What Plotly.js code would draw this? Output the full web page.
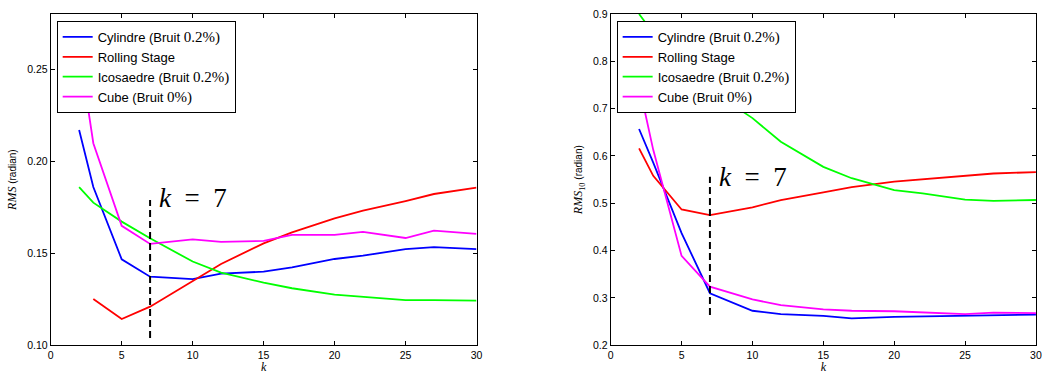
<!DOCTYPE html>
<html>
<head>
<meta charset="utf-8">
<script src="https://cdn.plot.ly/plotly-3.0.1.min.js"></script>
<style>html,body{margin:0;padding:0;background:#fff;}#chart{width:1042px;height:374px;}</style>
</head>
<body>
<div id="chart"></div>
<script>
// ---- data ----
const kAll = [2, 3, 5, 7, 10, 12, 15, 17, 20, 22, 25, 27, 30];
const kRollLeft = [3, 5, 7, 10, 12, 15, 17, 20, 22, 25, 27, 30];

// Left panel: RMS (radian)
const cylLeft  = [0.217, 0.186, 0.1467, 0.1373, 0.136, 0.139, 0.140, 0.1424, 0.1469, 0.1487, 0.1523, 0.1533, 0.1523];
const rollLeft = [0.1252, 0.1143, 0.121, 0.1351, 0.1442, 0.1554, 0.1614, 0.169, 0.1732, 0.1784, 0.1822, 0.1857];
const icoLeft  = [0.1859, 0.1775, 0.1672, 0.1582, 0.1455, 0.1395, 0.134, 0.131, 0.1275, 0.1262, 0.1245, 0.1246, 0.1243];
const cubeLeft = [0.261, 0.2098, 0.1649, 0.1551, 0.1576, 0.1562, 0.1567, 0.160, 0.160, 0.1616, 0.1583, 0.1623, 0.1605];

// Right panel: RMS_10 (radian)
const cylRight  = [0.657, 0.586, 0.437, 0.310, 0.273, 0.266, 0.262, 0.257, 0.260, 0.261, 0.262, 0.262, 0.265];
const rollRight = [0.616, 0.558, 0.487, 0.475, 0.4915, 0.507, 0.523, 0.534, 0.546, 0.551, 0.558, 0.563, 0.566];
const icoRight  = [0.90, 0.86, 0.79, 0.74, 0.68, 0.630, 0.577, 0.553, 0.528, 0.521, 0.508, 0.505, 0.507];
const cubeRight = [0.75, 0.613, 0.389, 0.324, 0.297, 0.285, 0.276, 0.273, 0.272, 0.270, 0.266, 0.269, 0.268];

// k = 7 marker
const kMark = [7, 7];
const markLeftY = [0.104, 0.179];
const markRightY = [0.264, 0.556];

const serif = (s) => '<span style="font-family:Liberation Serif;font-size:15px">' + s + '</span>';
const seriesNames = [
  'Cylindre (Bruit ' + serif('0.2%)'),
  'Rolling Stage',
  'Icosaedre (Bruit ' + serif('0.2%)'),
  'Cube (Bruit ' + serif('0%)')
];
const colors = ['#0000ff', '#ff0000', '#00ff00', '#ff00ff'];

// ---- traces ----
function line(x, y, i, xa, ya, leg) {
  return {x: x, y: y, type: 'scatter', mode: 'lines', name: seriesNames[i],
    xaxis: xa, yaxis: ya, legend: leg, line: {color: colors[i], width: 1.8}};
}
const traces = [
  line(kAll, cylLeft, 0, 'x', 'y', 'legend'),
  line(kRollLeft, rollLeft, 1, 'x', 'y', 'legend'),
  line(kAll, icoLeft, 2, 'x', 'y', 'legend'),
  line(kAll, cubeLeft, 3, 'x', 'y', 'legend'),
  line(kAll, cylRight, 0, 'x2', 'y2', 'legend2'),
  line(kAll, rollRight, 1, 'x2', 'y2', 'legend2'),
  line(kAll, icoRight, 2, 'x2', 'y2', 'legend2'),
  line(kAll, cubeRight, 3, 'x2', 'y2', 'legend2'),
  {x: kMark, y: markLeftY, type: 'scatter', mode: 'lines', showlegend: false, xaxis: 'x', yaxis: 'y',
   line: {color: '#000', width: 2, dash: '7px,4px'}},
  {x: kMark, y: markRightY, type: 'scatter', mode: 'lines', showlegend: false, xaxis: 'x2', yaxis: 'y2',
   line: {color: '#000', width: 2, dash: '7px,4px'}}
];

const tickFont = {family: 'Liberation Sans, Arial, sans-serif', size: 10.5, color: '#000'};
function xAxis(dom, anchor) {
  return {domain: dom, anchor: anchor, range: [0, 30], tickvals: [0, 5, 10, 15, 20, 25, 30],
    ticks: 'inside', ticklen: 4, tickcolor: '#000', showline: true, linecolor: '#000', linewidth: 1,
    mirror: 'allticks', showgrid: false, zeroline: false, tickfont: tickFont,
    title: {text: '<i>k</i>', font: {family: 'Liberation Serif, serif', size: 12, color: '#000'}, standoff: 4}};
}
function yAxis(range, vals, fmt, anchor, title) {
  return {domain: [0.0767, 0.9626], anchor: anchor, range: range, tickvals: vals, tickformat: fmt,
    ticks: 'inside', ticklen: 4, tickcolor: '#000', showline: true, linecolor: '#000', linewidth: 1,
    mirror: 'allticks', showgrid: false, zeroline: false, tickfont: tickFont,
    title: {text: title, font: {family: 'Liberation Sans, Arial, sans-serif', size: 10, color: '#000'}, standoff: 8}};
}
const legendStyle = (x) => ({x: x, y: 0.944, xanchor: 'left', yanchor: 'top', bgcolor: '#fff',
  bordercolor: '#000', borderwidth: 1, font: {family: 'Liberation Sans, Arial, sans-serif', size: 13, color: '#000'},
  tracegroupgap: 0, itemwidth: 30});

const layout = {
  width: 1042, height: 374,
  margin: {l: 0, r: 0, t: 0, b: 0},
  paper_bgcolor: '#fff', plot_bgcolor: '#fff',
  showlegend: true,
  xaxis: xAxis([0.0487, 0.4573], 'y'),
  yaxis: yAxis([0.10, 0.28], [0.10, 0.15, 0.20, 0.25], '.2f', 'x',
    '<span style="font-family:Liberation Serif;font-size:12px"><i>RMS</i></span> (radian)'),
  xaxis2: xAxis([0.5861, 0.9942], 'y2'),
  yaxis2: yAxis([0.2, 0.9], [0.2, 0.3, 0.4, 0.5, 0.6, 0.7, 0.8, 0.9], '.1f', 'x2',
    '<span style="font-family:Liberation Serif;font-size:12px"><i>RMS</i><sub>10</sub></span> (radian)'),
  legend: legendStyle(0.0544),
  legend2: legendStyle(0.5918),
  annotations: [
    {x: 7.5, y: 0.180, xref: 'x', yref: 'y', xanchor: 'left', yanchor: 'middle', showarrow: false,
     text: '<i>k</i>\u2002=\u20027', font: {family: 'Liberation Serif, serif', size: 27, color: '#000'}},
    {x: 7.5, y: 0.556, xref: 'x2', yref: 'y2', xanchor: 'left', yanchor: 'middle', showarrow: false,
     text: '<i>k</i>\u2002=\u20027', font: {family: 'Liberation Serif, serif', size: 27, color: '#000'}}
  ]
};

Plotly.newPlot('chart', traces, layout, {displayModeBar: false, staticPlot: true});
</script>
</body>
</html>
